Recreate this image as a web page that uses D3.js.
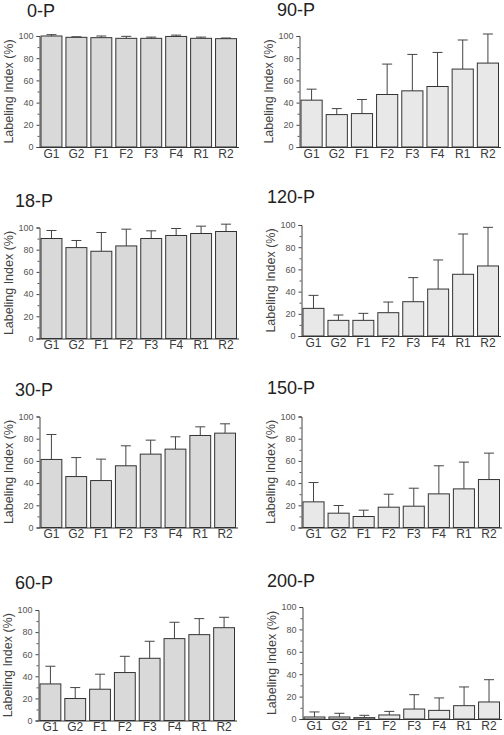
<!DOCTYPE html>
<html><head><meta charset="utf-8">
<script src="https://cdn.jsdelivr.net/npm/d3@7"></script>
<style>
html,body{margin:0;padding:0;background:#fff;}
svg{display:block;}
text{font-family:"Liberation Sans",Arial,Helvetica,sans-serif;}
</style></head>
<body>
<svg id="chart" width="504" height="735"></svg>
<script>
// ---- data ----
const categories = ["G1","G2","F1","F2","F3","F4","R1","R2"];
const yTicks = [0,20,40,60,80,100];
const panelTitles = ["0-P","18-P","30-P","60-P","90-P","120-P","150-P","200-P"];

const mean0P   = [100, 98.8, 98.5, 97.9, 97.9, 99.6, 97.9, 97.6];
const err0P    = [1.2, 0.5, 1.5, 1.8, 1.1, 1.2, 1.1, 0.6];
const mean18P  = [90.1, 81.9, 78.6, 83.4, 90.1, 92.8, 94.6, 96.4];
const err18P   = [7.2, 6.4, 16.9, 15.1, 6.9, 6.3, 6.6, 6.6];
const mean30P  = [61.3, 45.9, 42.3, 55.6, 66.1, 70.6, 82.9, 85.0];
const err30P   = [22.5, 17.1, 19.3, 18.0, 12.6, 11.1, 7.8, 8.4];
const mean60P  = [33.1, 19.9, 28.3, 43.4, 56.3, 74.1, 77.7, 84.0];
const err60P   = [16.0, 9.9, 13.6, 14.7, 15.4, 14.8, 14.5, 9.4];
const mean90P  = [42.2, 29.2, 30.1, 47.3, 50.6, 54.5, 70.2, 75.6];
const err90P   = [9.9, 5.4, 12.7, 27.4, 32.8, 30.7, 26.2, 26.2];
const mean120P = [24.9, 14.1, 14.1, 21.0, 30.9, 42.3, 55.6, 63.1];
const err120P  = [11.7, 4.8, 6.3, 9.6, 21.7, 26.2, 36.3, 34.8];
const mean150P = [23.1, 12.9, 9.9, 18.3, 19.2, 30.3, 34.8, 43.2];
const err150P  = [17.4, 6.9, 5.7, 11.7, 16.2, 25.3, 24.1, 23.8];
const mean200P = [1.8, 1.8, 1.2, 3.6, 8.9, 7.7, 11.9, 15.2];
const err200P  = [4.5, 3.3, 2.1, 3.2, 12.8, 11.1, 16.7, 19.9];

const panelMeans = [mean0P, mean18P, mean30P, mean60P, mean90P, mean120P, mean150P, mean200P];
const panelErrs  = [err0P, err18P, err30P, err60P, err90P, err120P, err150P, err200P];

// ---- layout (pixel geometry) ----
// [axisX, rightX, yTop(100), yBottom(0), titleX, titleY, fill]
const layout = [
  [39.5, 237, 36, 147, 27, 17, "#d9d9d9"],
  [39.5, 237, 227.5, 338.5, 15, 207, "#d9d9d9"],
  [39.5, 236, 416.5, 527.5, 15, 396, "#d9d9d9"],
  [38.5, 235, 610, 720.5, 15, 589, "#d9d9d9"],
  [299.5, 499, 36, 147, 277, 16, "#e8e8e8"],
  [301.5, 499, 225, 336, 267, 203, "#e8e8e8"],
  [301.5, 500, 416.5, 527.5, 267, 394, "#e8e8e8"],
  [302.5, 500, 607, 719, 267, 587, "#e8e8e8"]
];

const svg = d3.select("#chart");
const textCol = "#3a3a3a";

panelTitles.forEach((title, i) => {
  const [ax, rx, yT, yB, tx, ty, fill] = layout[i];
  const g = svg.append("g");
  const x = d3.scaleBand().domain(categories).range([ax + 1, rx]).paddingInner(0.12).paddingOuter(0);
  const y = d3.scaleLinear().domain([0, 100]).range([yB, yT]);
  const means = panelMeans[i], errs = panelErrs[i];
  const data = categories.map((c, k) => ({c, m: means[k], e: errs[k]}));

  // title
  g.append("text").attr("x", tx).attr("y", ty).attr("font-size", 18).attr("fill", "#222").text(title);

  // error bars (upper)
  const capW = 10;
  const eb = g.selectAll(".eb").data(data).enter().append("g");
  eb.append("line")
    .attr("x1", d => x(d.c) + x.bandwidth()/2).attr("x2", d => x(d.c) + x.bandwidth()/2)
    .attr("y1", d => y(d.m)).attr("y2", d => y(d.m + d.e))
    .attr("stroke", "#444").attr("stroke-width", 1);
  eb.append("line")
    .attr("x1", d => x(d.c) + x.bandwidth()/2 - capW/2).attr("x2", d => x(d.c) + x.bandwidth()/2 + capW/2)
    .attr("y1", d => y(d.m + d.e)).attr("y2", d => y(d.m + d.e))
    .attr("stroke", "#444").attr("stroke-width", 1);

  // bars
  g.selectAll(".bar").data(data).enter().append("rect")
    .attr("x", d => x(d.c) + 0.5).attr("width", x.bandwidth() - 1)
    .attr("y", d => y(d.m)).attr("height", d => y(0) - y(d.m))
    .attr("fill", fill).attr("stroke", "#333").attr("stroke-width", 1);

  // y axis
  const yAxis = d3.axisLeft(y).tickValues(yTicks).tickSize(3).tickPadding(3);
  const ya = g.append("g").attr("transform", `translate(${ax},0)`).call(yAxis);
  ya.select(".domain").attr("stroke", "#444");
  ya.selectAll(".tick line").attr("stroke", "#444");
  ya.selectAll(".tick text").attr("font-size", 9).attr("fill", "#555").attr("font-family", "'Liberation Sans',Arial,sans-serif");
  // minor ticks
  const minor = d3.axisLeft(y).tickValues(d3.range(10, 100, 20)).tickSize(2).tickFormat("");
  const ym = g.append("g").attr("transform", `translate(${ax},0)`).call(minor);
  ym.select(".domain").remove();
  ym.selectAll(".tick line").attr("stroke", "#555");

  // x axis
  const xAxis = d3.axisBottom(x).tickSize(0).tickPadding(2);
  const xa = g.append("g").attr("transform", `translate(0,${yB})`).call(xAxis);
  xa.select(".domain").remove();
  xa.selectAll(".tick text").attr("font-size", 12).attr("fill", textCol).attr("font-family", "'Liberation Sans',Arial,sans-serif");
  g.append("line").attr("x1", ax).attr("x2", rx + 2).attr("y1", yB + 0.5).attr("y2", yB + 0.5).attr("stroke", "#333");

  // y label
  g.append("text")
    .attr("transform", `translate(${ax - 27},${(yT + yB)/2}) rotate(-90)`)
    .attr("text-anchor", "middle").attr("font-size", 12.5).attr("fill", "#444")
    .text("Labeling Index (%)");
});
</script>
</body></html>
